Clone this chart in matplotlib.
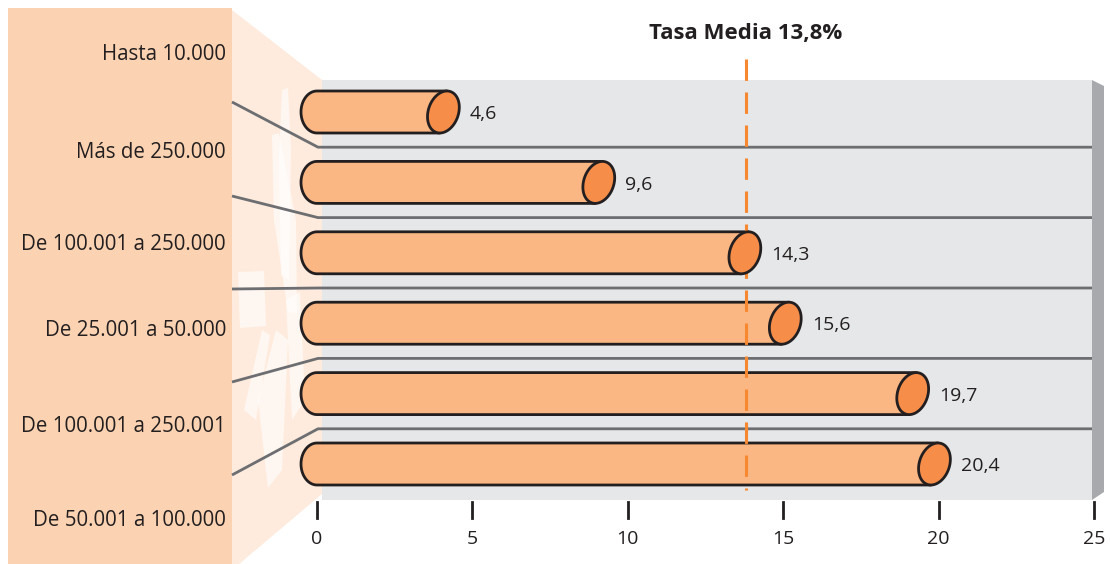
import matplotlib
matplotlib.use("Agg")
import matplotlib.pyplot as plt
import numpy as np
from matplotlib.path import Path
from matplotlib.patches import PathPatch, Polygon, Rectangle
from matplotlib.transforms import Affine2D

# ---- data ----
categories = ["Hasta 10.000", "Más de 250.000", "De 100.001 a 250.000",
              "De 25.001 a 50.000", "De 100.001 a 250.001", "De 50.001 a 100.000"]
values = [4.6, 9.6, 14.3, 15.6, 19.7, 20.4]
value_labels = ["4,6", "9,6", "14,3", "15,6", "19,7", "20,4"]
mean_value = 13.8
mean_label = "Tasa Media 13,8%"
ticks = [0, 5, 10, 15, 20, 25]

W, H = 1110, 564
plt.rcParams['font.family'] = ['Open Sans', 'DejaVu Sans']
fig = plt.figure(figsize=(W / 100, H / 100), dpi=100)
ax = fig.add_axes([0, 0, 1, 1])
ax.set_axis_off()

# scale: x=0 at px 317, 31.08 px per unit; bar i centre at px 112 + 70.4*i
X0, SX = 317.0, 31.08
Y0, SY = 112.0, 70.4
ax.set_xlim(-X0 / SX, (W - X0) / SX)
ax.set_ylim((H - Y0) / SY, -Y0 / SY)

pix = Affine2D().scale(1 / W, -1 / H).translate(0, 1) + fig.transFigure

def dx(px):
    return (px - X0) / SX

def dy(py):
    return (py - Y0) / SY

TXT = "#231F20"

# ---- decorations ----
ax.add_patch(Polygon([(232, 10), (322, 80), (322, 494), (232, 570)], closed=True,
                     facecolor="#FEEBDD", edgecolor="none", transform=pix, zorder=0))
white_shapes = [
    [(282, 90), (288, 88), (291, 150), (289, 280), (281, 275), (279, 160)],
    [(272, 135), (279, 133), (296, 220), (297, 313), (288, 312), (274, 220)],
    [(238, 272), (264, 271), (266, 326), (240, 328)],
    [(244, 410), (262, 330), (270, 335), (256, 420), (250, 415)],
    [(258, 400), (276, 330), (288, 340), (282, 470), (268, 488)],
    [(286, 300), (300, 292), (305, 400), (292, 420)],
]
for s in white_shapes:
    ax.add_patch(Polygon(s, closed=True, facecolor="white", edgecolor="none",
                         alpha=0.6, transform=pix, zorder=0.5))
ax.add_patch(Rectangle((8, 8), 224, 560, facecolor="#FCD3B2", edgecolor="none",
                       transform=pix, zorder=1))
ax.add_patch(Rectangle((322, 80), 770, 420, facecolor="#E6E7E8", edgecolor="none",
                       transform=pix, zorder=1))
ax.add_patch(Polygon([(1092, 80), (1104, 86), (1104, 492), (1092, 500)], closed=True,
                     facecolor="#A7A9AC", edgecolor="none", transform=pix, zorder=1))

# separator lines (bent from the label panel)
left_ends = [102, 196, 289, 382, 475]
for i, ly in enumerate(left_ends):
    ysep = i + 0.5
    ax.plot([dx(232), dx(318), dx(1092)], [dy(ly), ysep, ysep], color="#6D6E71",
            lw=2, solid_capstyle="butt", zorder=2)

# ---- category labels ----
label_py = [55, 153, 245, 331, 427, 521]
for lab, py in zip(categories, label_py):
    ax.text(226, py, lab, transform=pix, ha="right", va="center", fontsize=14.8,
            color=TXT, zorder=3)

# ---- cylinder bars ----
HH = 21.0      # half height px
RXL = 16.0     # left rounding px
CA = 15.5      # cap half width px
SH = 0.17      # cap shear
for i, v in enumerate(values):
    ycp = Y0 + SY * i
    vxp = X0 + SX * v
    cxp = vxp - CA - SH * HH * 0.3
    # body
    t = np.linspace(np.pi / 2, 3 * np.pi / 2, 40)
    arc = [(X0 + RXL * np.cos(a), ycp - HH * np.sin(a)) for a in t]
    verts = [(cxp + SH * HH, ycp - HH)] + arc + [(cxp - SH * HH, ycp + HH),
                                                 (cxp + SH * HH, ycp - HH)]
    codes = [Path.MOVETO] + [Path.LINETO] * (len(verts) - 2) + [Path.CLOSEPOLY]
    vd = [(dx(px), dy(py)) for px, py in verts]
    ax.add_patch(PathPatch(Path(vd, codes), facecolor="#FAB784", edgecolor=TXT,
                           lw=2, zorder=4, joinstyle="round"))
    # cap (sheared ellipse)
    tt = np.linspace(0, 2 * np.pi, 80)
    ex = CA * np.cos(tt)
    ey = HH * np.sin(tt)
    px = cxp + ex - SH * ey
    py = ycp + ey
    cap = [(dx(a), dy(b)) for a, b in zip(px, py)]
    ax.add_patch(Polygon(cap, closed=True, facecolor="#F68E4A", edgecolor=TXT,
                         lw=2, zorder=6))
    ax.text(v + 10 / SX, i + 0.03, value_labels[i], ha="left", va="center",
            fontsize=14, color=TXT, zorder=7)

# ---- mean line ----
ax.plot([mean_value, mean_value], [dy(59), dy(490)], color="#F7882F", lw=2.2,
        dashes=(7, 3.8), zorder=5)
ax.text(mean_value, dy(33), mean_label, ha="center", va="center", fontsize=16,
        fontweight="bold", color=TXT, zorder=7)

# ---- x axis ticks ----
for tk in ticks:
    ax.plot([tk, tk], [dy(502), dy(518)], color=TXT, lw=2, zorder=3)
    ax.text(tk, dy(539), str(tk), ha="center", va="center", fontsize=14,
            color=TXT, zorder=3)

fig.savefig("out.png", dpi=100)
